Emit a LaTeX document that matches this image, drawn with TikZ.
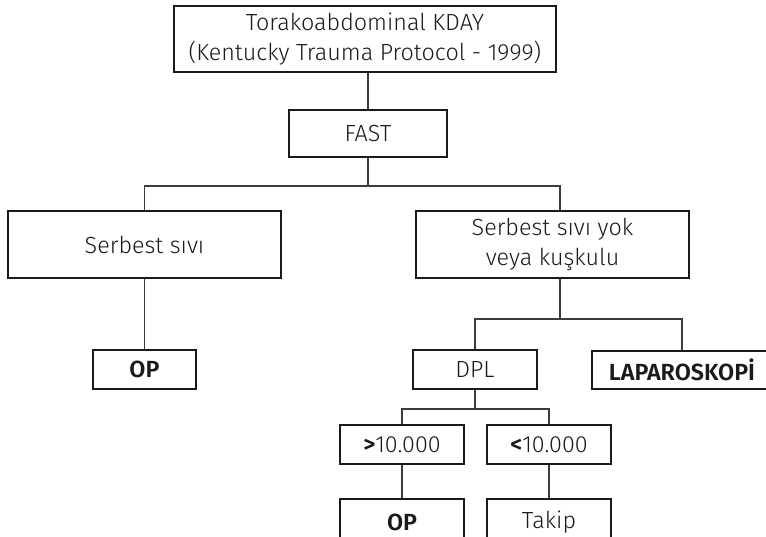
\documentclass[tikz,border=0pt]{standalone}
\usepackage{fontspec}
\setmainfont{Fira Sans Light}[BoldFont={Fira Sans SemiBold}]
\usetikzlibrary{calc}
\definecolor{ink}{HTML}{1A1A1A}
\tikzset{
  box/.style={draw=ink, line width=0.9pt, text=ink, inner sep=0pt, align=center,
    font=\fontsize{17.5}{22}\selectfont},
  conn/.style={draw=ink!85, line width=0.9pt}
}
\begin{document}
\begin{tikzpicture}[x=0.75pt, y=-0.75pt]
\useasboundingbox (0,0) rectangle (766,536);
\clip (0,0) rectangle (766,536);
\node[box, minimum width=382*0.75pt, minimum height=66*0.75pt] (top) at (365,39) {Torakoabdominal KDAY\\(Kentucky Trauma Protocol - 1999)};
\node[box, minimum width=158*0.75pt, minimum height=47*0.75pt] (fast) at (368,133.5) {FAST};
\node[box, minimum width=273*0.75pt, minimum height=67*0.75pt] (left) at (144.5,244.5) {Serbest sıvı};
\node[box, minimum width=273*0.75pt, minimum height=67*0.75pt] (right) at (552.5,244.5) {Serbest sıvı yok\\veya kuşkulu};
\node[box, minimum width=103*0.75pt, minimum height=39*0.75pt] (op1) at (144.5,369.5) {\textbf{OP}};
\node[box, minimum width=124*0.75pt, minimum height=39*0.75pt] (dpl) at (475,369.5) {DPL};
\node[box, minimum width=180*0.75pt, minimum height=38*0.75pt] (lap) at (682,370) {\textbf{LAPAROSKOPİ}};
\node[box, minimum width=124*0.75pt, minimum height=39*0.75pt] (gt) at (402,444.5) {\textbf{>}10.000};
\node[box, minimum width=124*0.75pt, minimum height=39*0.75pt] (lt) at (549,444.5) {\textbf{<}10.000};
\node[box, minimum width=124*0.75pt, minimum height=46*0.75pt] (op2) at (402,522) {\textbf{OP}};
\node[box, minimum width=124*0.75pt, minimum height=46*0.75pt] (takip) at (549,522) {Takip};
% connectors
\draw[conn] (fast.north) -- (fast.north |- top.south);
\coordinate (j1) at (368,186);
\coordinate (rs) at ($(right.north)+(7.5,0)$);
\draw[conn] (fast.south) -- (j1);
\draw[conn] (left.north) |- (j1) -| (rs);
\draw[conn] (left.south) -- (op1.north);
\coordinate (rb) at ($(right.south)+(7.5,0)$);
\coordinate (j2) at (560,319);
\draw[conn] (rb) -- (j2);
\draw[conn] (dpl.north) |- (j2) -| (lap.north);
\coordinate (j3) at (475,409);
\draw[conn] (dpl.south) -- (j3);
\draw[conn] (gt.north) |- (j3) -| (lt.north);
\draw[conn] (gt.south) -- (op2.north);
\draw[conn] (lt.south) -- (takip.north);
\end{tikzpicture}
\end{document}
